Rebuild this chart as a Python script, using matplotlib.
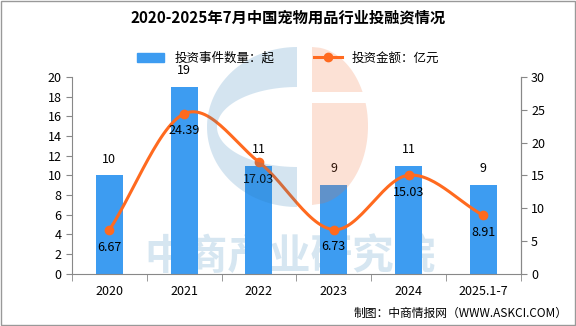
import numpy as np
import matplotlib
matplotlib.use("Agg")
import matplotlib.pyplot as plt
from matplotlib.patches import Rectangle, Polygon
from matplotlib.lines import Line2D

plt.rcParams['font.family'] = ['Noto Sans CJK SC', 'DejaVu Sans']

categories = ["2020", "2021", "2022", "2023", "2024", "2025.1-7"]
event_counts = [10, 19, 11, 9, 11, 9]
amounts = [6.67, 24.39, 17.03, 6.73, 15.03, 8.91]

title = "2020-2025年7月中国宠物用品行业投融资情况"
bar_label = "投资事件数量：起"
line_label = "投资金额：亿元"
source = "制图：中商情报网（WWW.ASKCI.COM）"

W, H = 576, 326
fig = plt.figure(figsize=(W / 100, H / 100), dpi=100)
fig.patch.set_facecolor("white")

bg = fig.add_axes([0, 0, 1, 1], zorder=0)
bg.axis("off")
bg.text(0.503, 0.21, "中商产业研究院", fontsize=30, color="#d6e6f1", ha="center",
        va="center", fontweight="bold", transform=bg.transAxes)

ax = fig.add_axes([0.125, 0.16, 0.779, 0.604], zorder=2)
ax.patch.set_alpha(0)
x = np.arange(len(categories))
bar_color = "#3d9cf1"
line_color = "#ff6a1f"
ax.bar(x, event_counts, width=0.36, color=bar_color, zorder=2)
ax.set_xlim(-0.5, len(categories) - 0.5)
ax.set_ylim(0, 20)
ax.set_yticks(range(0, 21, 2))
ax.set_xticks(x)
ax.set_xticklabels(categories)
ax.set_xticks(np.arange(-0.5, len(categories), 1), minor=True)
ax.tick_params(axis="x", which="major", length=0, pad=8, labelsize=9)
ax.tick_params(axis="x", which="minor", length=5, color="#888888")
ax.tick_params(axis="y", length=4, color="#888888", labelsize=9)
ax.spines["top"].set_visible(False)
for s in ["left", "bottom", "right"]:
    ax.spines[s].set_color("#888888")
for xi, v in zip(x, event_counts):
    ax.text(xi, v + 1.0, str(v), ha="center", va="bottom", fontsize=9, zorder=6)

ax2 = ax.twinx()
ax2.set_zorder(2.5)
ax2.set_ylim(0, 30)
ax2.set_yticks(range(0, 31, 5))
ax2.tick_params(axis="y", length=4, color="#888888", labelsize=9)
for s in ["top", "left", "bottom"]:
    ax2.spines[s].set_visible(False)
ax2.spines["right"].set_color("#888888")


def catmull(xs, ys, n=30):
    px = np.concatenate([[2 * xs[0] - xs[1]], xs, [2 * xs[-1] - xs[-2]]])
    py = np.concatenate([[2 * ys[0] - ys[1]], ys, [2 * ys[-1] - ys[-2]]])
    outx, outy = [], []
    for i in range(1, len(px) - 2):
        t = np.linspace(0, 1, n)
        for arr, out in ((px, outx), (py, outy)):
            p0, p1, p2, p3 = arr[i - 1], arr[i], arr[i + 1], arr[i + 2]
            out.extend(0.5 * ((2 * p1) + (-p0 + p2) * t + (2 * p0 - 5 * p1 + 4 * p2 - p3) * t ** 2
                              + (-p0 + 3 * p1 - 3 * p2 + p3) * t ** 3))
    return np.array(outx), np.array(outy)


sx, sy = catmull(x.astype(float), np.array(amounts))
ax2.plot(sx, sy, color=line_color, lw=2.2, zorder=3)
ax2.plot(x, amounts, "o", color=line_color, ms=6, zorder=4)
for xi, v in zip(x, amounts):
    ax2.text(xi, v - 1.6, f"{v:.2f}", ha="center", va="top", fontsize=9, zorder=6)

# translucent watermark logo overlay, in pixel coordinates from top-left
lg = fig.add_axes([0, 0, 1, 1], zorder=3)
lg.set_xlim(0, W)
lg.set_ylim(H, 0)
lg.axis("off")
lg.patch.set_alpha(0)
th = np.linspace(np.pi / 2, 3 * np.pi / 2, 80)
cx, cy = 297, 127
outer = np.column_stack([cx + 90 * np.cos(th), cy - 80 * np.sin(th)])
inner = np.column_stack([cx + 80 * np.cos(th[::-1]), cy - 40 * np.sin(th[::-1])])
blue_poly = np.vstack([outer, inner])
lg.add_patch(Polygon(blue_poly, closed=True, facecolor="#2a7bb8", alpha=0.2, lw=0))
ox, oy, rx, ry = 312, 126, 56, 79
for y0, y1 in ((oy - ry, 92), (103, oy + ry)):
    ys = np.linspace(y0, y1, 60)
    xs = ox + rx * np.sqrt(np.clip(1 - ((ys - oy) / ry) ** 2, 0, 1))
    poly = np.vstack([np.column_stack([xs, ys]), [[ox, y1], [ox, y0]]])
    lg.add_patch(Polygon(poly, closed=True, facecolor="#f06a30", alpha=0.2, lw=0))

handles = [Rectangle((0, 0), 1, 1, color=bar_color),
           Line2D([0], [0], color=line_color, lw=2.2, marker="o", ms=6)]
fig.legend(handles, [bar_label, line_label], loc="center", bbox_to_anchor=(0.5, 0.822),
           ncol=2, frameon=False, fontsize=9, columnspacing=3.2, handlelength=2.2)

fig.text(0.5, 0.945, title, ha="center", va="center", fontsize=11, fontweight="bold")
fig.text(0.985, 0.04, source, ha="right", va="center", fontsize=8.5)

fig.add_artist(Rectangle((0.001, 0.002), 0.997, 0.995, transform=fig.transFigure,
                         fill=False, edgecolor="#999999", lw=1))

fig.savefig("out.png", dpi=100)
